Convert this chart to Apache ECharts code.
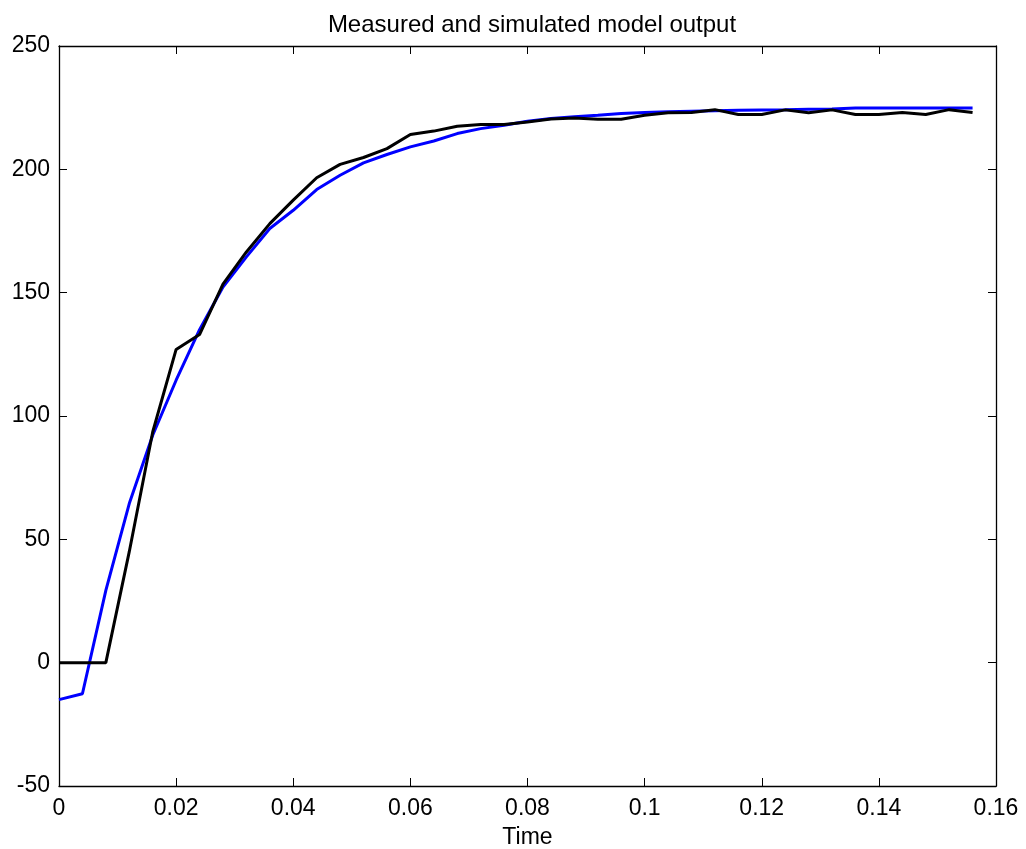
<!DOCTYPE html>
<html lang="en">
<head>
	<meta charset="UTF-8">
	<title>Measured and simulated model output</title>
	<style>
	body, div {
		margin: 0;
		padding: 0;
	}
	#echart {
		width: 1026px;
		height: 849px;
		background: #fff;
	}
	</style>
</head>
<body>
	<div id="echart"></div>

	<script src="https://cdn.jsdelivr.net/npm/echarts@6/dist/echarts.min.js"></script>

	<script>
// sample times, 0 .. 0.156 s, step 0.004
var time = [
	0, 0.004, 0.008, 0.012, 0.016, 0.020, 0.024, 0.028, 0.032, 0.036,
	0.040, 0.044, 0.048, 0.052, 0.056, 0.060, 0.064, 0.068, 0.072, 0.076,
	0.080, 0.084, 0.088, 0.092, 0.096, 0.100, 0.104, 0.108, 0.112, 0.116,
	0.120, 0.124, 0.128, 0.132, 0.136, 0.140, 0.144, 0.148, 0.152, 0.156
];

// measured output (black)
var measured = [
	0, 0, 0, 45, 93.5, 127, 133, 153.5, 166.5, 178,
	187.5, 196.6, 202, 204.8, 208.4, 214.1, 215.5, 217.5, 218.2, 218.2,
	219.2, 220.4, 220.8, 220.3, 220.3, 221.9, 222.9, 223, 224.2, 222.2,
	222.2, 224.1, 222.9, 224.1, 222.2, 222.2, 223, 222.2, 224.2, 223
];

// simulated model output (blue)
var simulated = [
	-15, -12.6, 29.3, 64.5, 92.2, 114.5, 135, 152.3, 164.5, 176,
	183.4, 191.8, 197.6, 202.6, 206, 209.1, 211.5, 214.5, 216.5, 217.9,
	219.5, 220.6, 221.3, 221.9, 222.6, 223, 223.3, 223.5, 223.7, 224,
	224.1, 224.2, 224.4, 224.5, 224.9, 224.9, 224.9, 224.9, 224.9, 224.9
];

function pairs(ys) {
	return time.map(function (t, i) { return [t, ys[i]]; });
}

var myEchart = echarts.init(document.getElementById('echart'));

var axisFont = 'Liberation Sans, Arial, Helvetica, sans-serif';
var boxLine = { show: true, onZero: false, lineStyle: { color: '#000', width: 1.3 } };
var inTick = { show: true, inside: true, length: 8, lineStyle: { color: '#000', width: 1 } };

option = {
	animation: false,
	backgroundColor: '#fff',
	title: {
		text: 'Measured and simulated model output',
		left: 527,
		top: 8,
		textAlign: 'center',
		textStyle: {
			fontFamily: axisFont,
			fontSize: 24,
			fontWeight: 'normal',
			color: '#000'
		}
	},
	grid: {
		left: 59,
		right: 30,
		top: 46,
		bottom: 63,
		containLabel: false,
		outerBoundsMode: 'none'
	},
	xAxis: [
		{
			type: 'value',
			min: 0,
			max: 0.16,
			interval: 0.02,
			name: 'Time',
			nameLocation: 'middle',
			nameGap: 40,
			nameTextStyle: { fontFamily: axisFont, fontSize: 23, color: '#000' },
			axisLine: boxLine,
			axisTick: inTick,
			axisLabel: { margin: 11, fontFamily: axisFont, fontSize: 23, color: '#000' },
			splitLine: { show: false }
		},
		{
			type: 'value',
			position: 'top',
			min: 0,
			max: 0.16,
			interval: 0.02,
			axisLine: boxLine,
			axisTick: inTick,
			axisLabel: { show: false },
			splitLine: { show: false }
		}
	],
	yAxis: [
		{
			type: 'value',
			min: -50,
			max: 250,
			interval: 50,
			axisLine: boxLine,
			axisTick: inTick,
			axisLabel: { margin: 9, fontFamily: axisFont, fontSize: 23, color: '#000' },
			splitLine: { show: false }
		},
		{
			type: 'value',
			position: 'right',
			min: -50,
			max: 250,
			interval: 50,
			axisLine: boxLine,
			axisTick: inTick,
			axisLabel: { show: false },
			splitLine: { show: false }
		}
	],
	series: [
		{
			name: 'simulated',
			type: 'line',
			xAxisIndex: 0,
			yAxisIndex: 0,
			data: pairs(simulated),
			showSymbol: false,
			lineStyle: { color: '#0000ff', width: 3 },
			itemStyle: { color: '#0000ff' }
		},
		{
			name: 'measured',
			type: 'line',
			xAxisIndex: 0,
			yAxisIndex: 0,
			data: pairs(measured),
			showSymbol: false,
			lineStyle: { color: '#000', width: 3 },
			itemStyle: { color: '#000' }
		}
	]
};

myEchart.setOption(option);
	</script>
</body>
</html>
